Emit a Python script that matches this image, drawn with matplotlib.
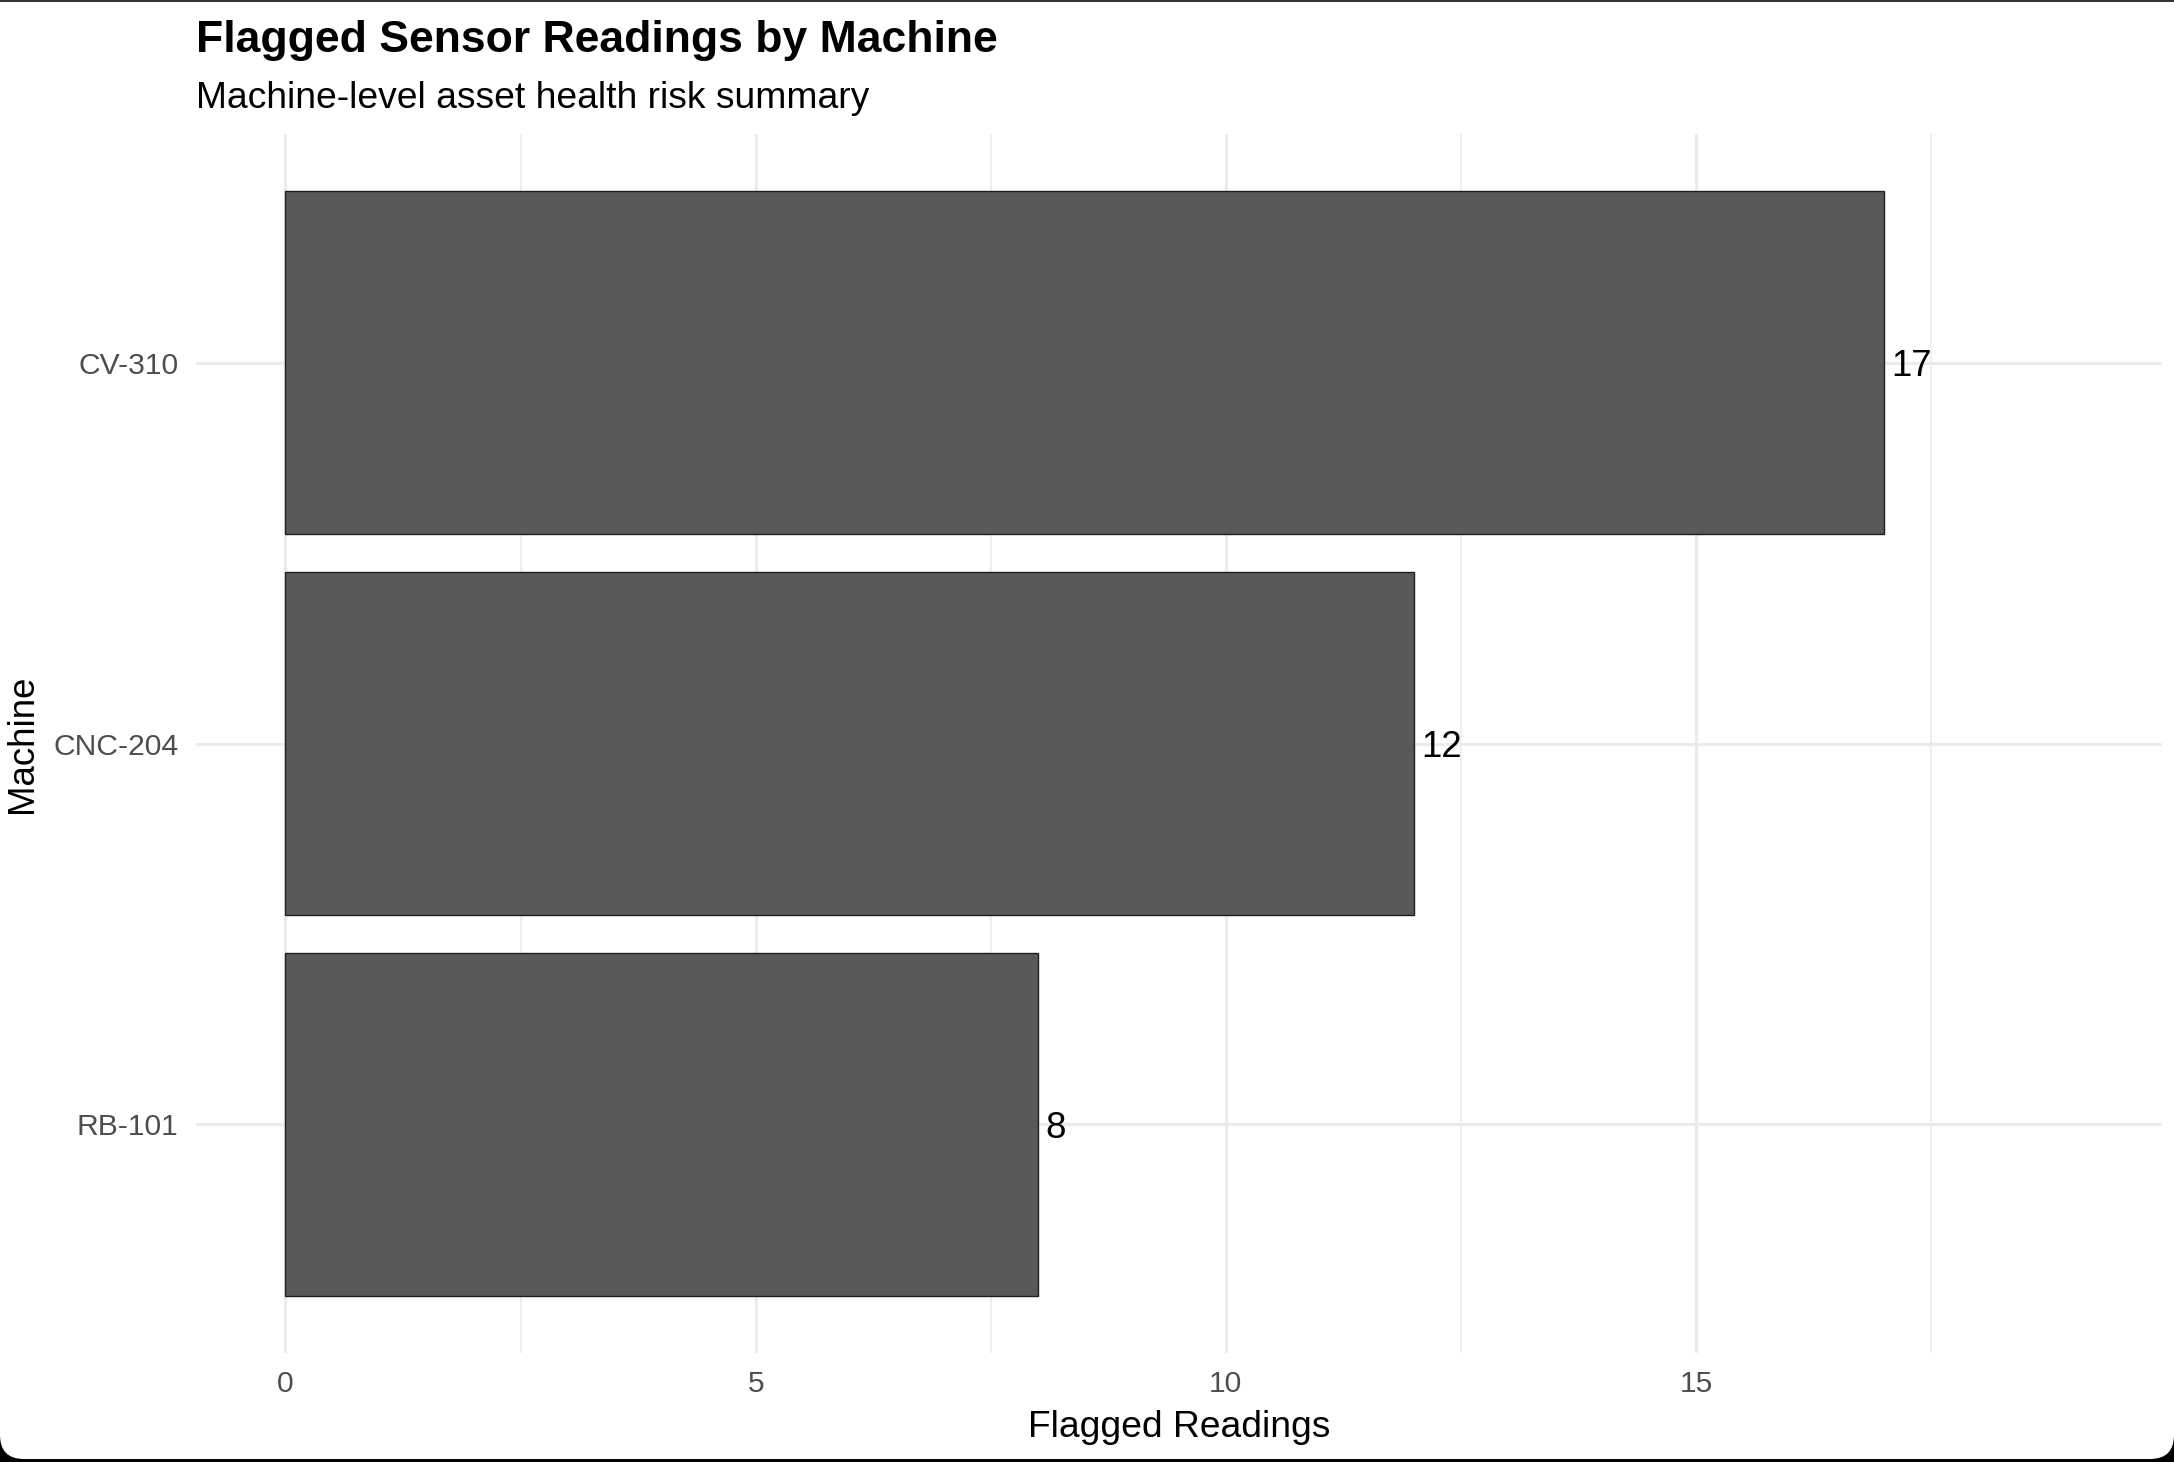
import numpy as np
import matplotlib.pyplot as plt
from matplotlib.patches import Rectangle, FancyBboxPatch

machines = ['RB-101', 'CNC-204', 'CV-310']
flagged = [8, 12, 17]

plt.rcParams['font.family'] = ['Liberation Sans', 'DejaVu Sans']

W, H = 10.87, 7.31
fig = plt.figure(figsize=(W, H), dpi=200)
ax = fig.add_axes([0.0902, 0.0746, 0.9041, 0.8337])

y = np.arange(len(machines))
ax.barh(y, flagged, height=0.9, color='#595959', edgecolor='#1f1f1f',
        linewidth=0.5, zorder=3)
for yi, v in zip(y, flagged):
    ax.annotate(str(v), (v, yi), xytext=(2.6, 0), textcoords='offset points',
                ha='left', va='center_baseline', fontsize=13.2, color='black', zorder=4)

ax.set_ylim(-0.6, len(machines) - 0.4)
ax.set_xlim(-0.95, 19.95)
ax.set_xticks([0, 5, 10, 15])
ax.set_xticks([2.5, 7.5, 12.5, 17.5], minor=True)
ax.set_yticks(y, machines)

# theme_minimal style grid
ax.grid(which='major', color='#EBEBEB', linewidth=1.1, zorder=0)
ax.grid(which='minor', axis='x', color='#EBEBEB', linewidth=0.55, zorder=0)
ax.set_axisbelow(True)
ax.tick_params(which='both', length=0, labelsize=10.8, labelcolor='#4D4D4D', pad=6.3)
for s in ax.spines.values():
    s.set_visible(False)

ax.set_xlabel('Flagged Readings', fontsize=13.4, labelpad=4)
ax.set_ylabel('Machine', fontsize=13.2, labelpad=5)

fig.text(0.0902, 1 - 51.7 / 1462, 'Flagged Sensor Readings by Machine',
         fontsize=16, fontweight='bold', va='baseline', ha='left')
fig.text(0.0902, 1 - 108.3 / 1462, 'Machine-level asset health risk summary',
         fontsize=13.4, va='baseline', ha='left')

# screenshot frame: dark strip on top, black rounded edge at bottom
fig.patches.append(Rectangle((0, H - 2 / 200), W, 2 / 200, transform=fig.dpi_scale_trans,
                             facecolor='#33373a', edgecolor='none', zorder=-1))
fig.patches.append(Rectangle((0, 0), W, 40 / 200, transform=fig.dpi_scale_trans,
                             facecolor='black', edgecolor='none', zorder=-2))
fig.patches.append(FancyBboxPatch((0, 3 / 200), W, 1.0,
                                  boxstyle='round,pad=0,rounding_size=0.12',
                                  transform=fig.dpi_scale_trans,
                                  facecolor='white', edgecolor='none', zorder=-1))

fig.savefig('out.png', dpi=200)
